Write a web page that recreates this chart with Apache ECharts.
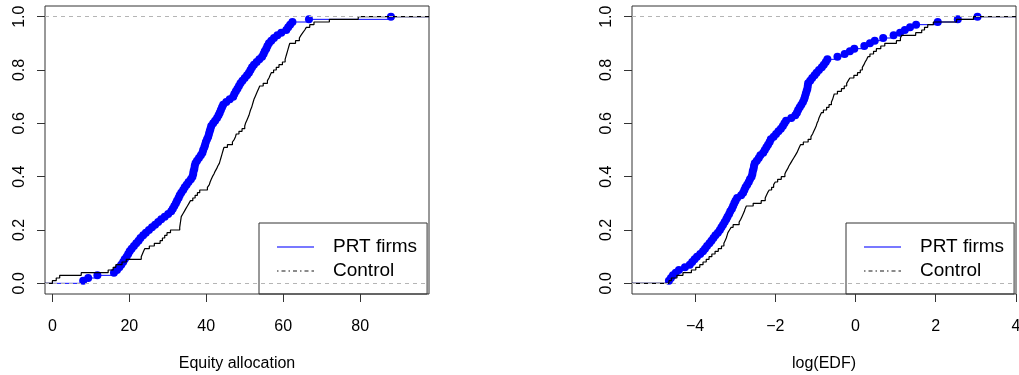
<!DOCTYPE html>
<html>
<head>
<meta charset="utf-8">
<script src="https://cdn.jsdelivr.net/npm/echarts@6/dist/echarts.min.js"></script>
<style>
  html, body { margin: 0; padding: 0; background: #fff; }
  #chart { width: 1019px; height: 375px; }
</style>
</head>
<body>
<div id="chart"></div>
<script>
// Equity allocation (%) of each firm, sorted
const equityPRT = [
  8.0, 9.3, 11.7, 16.0, 16.8, 17.4, 17.9, 18.4, 18.8, 19.3,
  19.7, 20.1, 20.6, 21.2, 21.8, 22.4, 22.9, 23.6, 24.3, 25.1,
  25.9, 26.7, 27.5, 28.3, 29.2, 30.1, 30.9, 31.3, 31.7, 32.1,
  32.4, 32.8, 33.1, 33.5, 34.0, 34.4, 34.9, 35.4, 36.0, 36.4,
  36.6, 36.7, 36.9, 37.0, 37.2, 37.6, 38.1, 38.6, 39.0, 39.2,
  39.5, 39.7, 39.9, 40.2, 40.5, 40.7, 40.9, 41.1, 41.3, 41.8,
  42.3, 42.8, 43.2, 43.5, 43.8, 44.1, 44.4, 45.2, 46.1, 47.0,
  47.3, 47.7, 48.1, 48.5, 48.9, 49.4, 50.0, 50.6, 51.1, 51.5,
  51.9, 52.4, 53.1, 53.8, 54.5, 54.9, 55.2, 55.6, 55.9, 56.3,
  56.9, 57.6, 58.5, 59.5, 60.8, 61.3, 61.8, 62.4, 66.7, 88.0
];
const equityControl = [
  0.0, 1.0, 1.9, 7.5, 14.5, 15.8, 16.5, 18.1, 19.2, 23.1,
  23.4, 23.7, 24.0, 25.2, 26.5, 28.0, 28.6, 29.2, 29.8, 30.7,
  33.1, 33.2, 33.3, 33.4, 33.5, 33.9, 34.3, 34.7, 35.1, 35.5,
  35.9, 36.5, 37.1, 37.7, 38.3, 40.3, 40.8, 41.0, 41.3, 41.6,
  42.0, 42.3, 42.7, 43.0, 43.4, 43.6, 43.8, 44.0, 44.2, 44.4,
  44.6, 45.5, 46.8, 47.3, 47.6, 47.8, 48.5, 49.3, 50.0, 50.2,
  50.5, 50.8, 51.1, 51.3, 51.5, 51.8, 52.0, 52.2, 52.4, 52.7,
  53.0, 53.3, 53.6, 53.9, 54.8, 55.9, 56.3, 56.6, 56.9, 57.5,
  58.2, 58.9, 59.8, 60.5, 60.7, 60.9, 61.1, 61.3, 61.5, 61.7,
  63.2, 64.2, 64.6, 65.1, 65.6, 66.0, 66.9, 68.0, 72.0, 79.5
];
// log(EDF) of each firm, sorted
const logEdfPRT = [
  -4.65, -4.60, -4.55, -4.48, -4.40, -4.25, -4.13, -4.07, -4.01, -3.95,
  -3.87, -3.80, -3.75, -3.70, -3.64, -3.59, -3.54, -3.49, -3.43, -3.38,
  -3.34, -3.30, -3.26, -3.22, -3.19, -3.15, -3.12, -3.08, -3.05, -3.02,
  -2.99, -2.95, -2.85, -2.80, -2.77, -2.74, -2.70, -2.66, -2.63, -2.59,
  -2.57, -2.56, -2.54, -2.53, -2.51, -2.46, -2.41, -2.37, -2.30, -2.26,
  -2.22, -2.18, -2.14, -2.11, -2.04, -1.98, -1.92, -1.86, -1.81, -1.77,
  -1.73, -1.60, -1.50, -1.46, -1.43, -1.39, -1.35, -1.31, -1.28, -1.26,
  -1.24, -1.22, -1.20, -1.19, -1.18, -1.13, -1.08, -1.02, -0.97, -0.91,
  -0.84, -0.79, -0.74, -0.70, -0.45, -0.27, -0.14, -0.03, 0.22, 0.36,
  0.48, 0.69, 0.95, 1.11, 1.23, 1.36, 1.51, 2.05, 2.55, 3.04
];
const logEdfControl = [
  -4.65, -4.59, -4.45, -4.30, -4.09, -3.98, -3.88, -3.80, -3.72, -3.65,
  -3.58, -3.50, -3.42, -3.34, -3.28, -3.25, -3.22, -3.20, -3.18, -3.14,
  -3.10, -3.05, -2.90, -2.86, -2.83, -2.80, -2.77, -2.75, -2.72, -2.55,
  -2.35, -2.25, -2.22, -2.19, -2.15, -2.09, -2.04, -2.00, -1.94, -1.85,
  -1.76, -1.73, -1.69, -1.66, -1.62, -1.58, -1.54, -1.50, -1.46, -1.43,
  -1.40, -1.37, -1.30, -1.18, -1.11, -1.07, -1.04, -1.01, -0.98, -0.96,
  -0.93, -0.91, -0.88, -0.85, -0.80, -0.72, -0.66, -0.60, -0.57, -0.55,
  -0.53, -0.45, -0.35, -0.28, -0.22, -0.18, -0.14, -0.04, 0.05, 0.12,
  0.17, 0.21, 0.24, 0.28, 0.31, 0.36, 0.45, 0.52, 0.63, 0.73,
  1.02, 1.12, 1.15, 1.50, 1.65, 1.72, 1.80, 1.94, 2.52, 2.94
];

const equityTicks = [0, 20, 40, 60, 80];
const logEdfTicks = [-4, -2, 0, 2, 4];
const probTicks = [0, 0.2, 0.4, 0.6, 0.8, 1.0];
const seriesNames = ['PRT firms', 'Control'];

// axis extents
const EQ_RANGE = [-1.92, 97.9];
const EDF_RANGE = [-5.57, 4.0];
const P_RANGE = [-0.04, 1.04];

const FONT = '"Liberation Sans", Arial, Helvetica, sans-serif';
const PRT_BLUE = '#0000ff';

// legend keys: a solid stroke and a dot-dash stroke
const KEY_SOLID = 'path://M0 0H37V2H0Z';
const KEY_DOTDASH = 'path://M0 0H1.5V1.5H0Z M4.5 0H8.5V1.5H4.5Z M11.5 0H13V1.5H11.5Z M16 0H20V1.5H16Z ' +
  'M23 0H24.5V1.5H23Z M27.5 0H31.5V1.5H27.5Z M34.5 0H37V1.5H34.5Z';

// empirical CDF knots: (x_i, i/n)
function ecdfPoints(values) {
  const s = values.slice().sort((a, b) => a - b);
  const n = s.length;
  return s.map((v, i) => [v, (i + 1) / n]);
}
// step path running from the left edge of the panel to the right edge
function ecdfPath(values, range) {
  return [[range[0], 0]].concat(ecdfPoints(values), [[range[1], 1]]);
}

const chart = echarts.init(document.getElementById('chart'), null, { renderer: 'canvas' });

const grids = [
  { left: 45, top: 6, width: 384, height: 288 },
  { left: 632, top: 6, width: 384, height: 288 }
].map(g => Object.assign(g, {
  show: true, borderColor: '#333', borderWidth: 1, backgroundColor: 'transparent',
  containLabel: false, outerBoundsMode: 'none'
}));

function minusFmt(v) { return v < 0 ? '\u2212' + Math.abs(v) : String(v); }

function xAxisDef(idx, range, ticks, title) {
  return {
    type: 'value', gridIndex: idx, min: range[0], max: range[1], position: 'bottom',
    axisLine: { show: false, onZero: false }, splitLine: { show: false },
    axisTick: { show: true, length: 8, customValues: ticks, lineStyle: { color: '#333' } },
    axisLabel: { customValues: ticks, margin: 25, fontSize: 16, color: '#000', fontFamily: FONT, formatter: minusFmt },
    name: title, nameLocation: 'middle', nameGap: 62,
    nameTextStyle: { fontSize: 16, color: '#000', fontFamily: FONT }
  };
}
function yAxisDef(idx) {
  return {
    type: 'value', gridIndex: idx, min: P_RANGE[0], max: P_RANGE[1], position: 'left',
    axisLine: { show: false, onZero: false }, splitLine: { show: false },
    axisTick: { show: true, length: 8, customValues: probTicks, lineStyle: { color: '#333' } },
    axisLabel: { customValues: probTicks, rotate: 90, margin: 17, fontSize: 16, color: '#000', fontFamily: FONT,
      formatter: v => v.toFixed(1) }
  };
}

function legendDef(left) {
  return {
    left: left, top: 223, orient: 'vertical', selectedMode: false,
    data: [
      { name: seriesNames[0], icon: KEY_SOLID, itemStyle: { color: '#7878ff', borderWidth: 0 } },
      { name: seriesNames[1], icon: KEY_DOTDASH, itemStyle: { color: '#666', borderWidth: 0 } }
    ],
    itemWidth: 37, itemHeight: 14, itemGap: 4,
    padding: [14, 10, 13, 18],
    borderColor: '#333', borderWidth: 1, borderRadius: 0,
    textStyle: { fontSize: 19, color: '#000', fontFamily: FONT, lineHeight: 20, padding: [0, 0, 0, 14] }
  };
}

const refLines = {
  silent: true, symbol: 'none', label: { show: false },
  lineStyle: { color: '#b5b5b5', type: [4, 4], width: 1 },
  data: [{ yAxis: 0 }, { yAxis: 1 }]
};

function panelSeries(idx, prt, control, range) {
  return [
    {
      name: seriesNames[0], type: 'line', xAxisIndex: idx, yAxisIndex: idx,
      step: 'end', symbol: 'none', data: ecdfPath(prt, range), color: PRT_BLUE,
      lineStyle: { color: PRT_BLUE, width: 1 }, itemStyle: { color: PRT_BLUE }, z: 2, markLine: refLines
    },
    {
      name: seriesNames[0] + ' ', type: 'scatter', xAxisIndex: idx, yAxisIndex: idx,
      data: ecdfPoints(prt), symbolSize: 8, itemStyle: { color: PRT_BLUE, opacity: 1 }, z: 3
    },
    {
      name: seriesNames[1], type: 'line', xAxisIndex: idx, yAxisIndex: idx,
      step: 'end', symbol: 'none', data: ecdfPath(control, range), color: '#000',
      lineStyle: { color: '#000', width: 1.2 }, itemStyle: { color: '#000' }, z: 4
    }
  ];
}

chart.setOption({
  animation: false,
  backgroundColor: '#fff',
  grid: grids,
  xAxis: [
    xAxisDef(0, EQ_RANGE, equityTicks, 'Equity allocation'),
    xAxisDef(1, EDF_RANGE, logEdfTicks, 'log(EDF)')
  ],
  yAxis: [yAxisDef(0), yAxisDef(1)],
  legend: [legendDef(259), legendDef(846)],
  series: panelSeries(0, equityPRT, equityControl, EQ_RANGE)
    .concat(panelSeries(1, logEdfPRT, logEdfControl, EDF_RANGE))
});
</script>
</body>
</html>
